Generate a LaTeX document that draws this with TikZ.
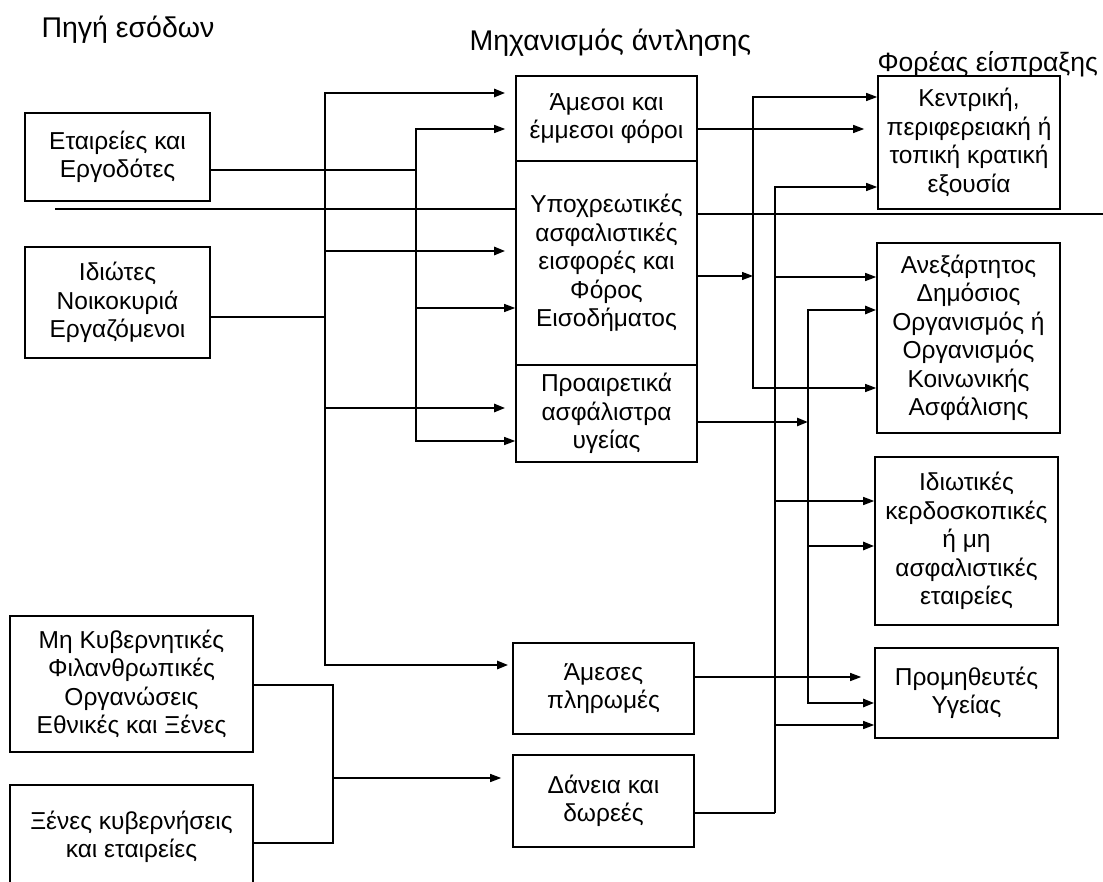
\documentclass[tikz,border=0pt]{standalone}
\usepackage{fontspec}
\setmainfont{Liberation Sans}
\usetikzlibrary{arrows.meta, positioning, calc}

\begin{document}
\begin{tikzpicture}[x=1pt, y=-1pt]
    % --- Style Definitions ---
    \tikzset{
        % Boxes of the three columns
        box style/.style={
            draw=black,
            line width=1.6pt,
            fill=white,
            align=center,
            inner sep=0pt,
            font=\fontsize{24.5}{28.5}\selectfont
        },
        % Column headings
        heading text/.style={
            font=\fontsize{28.5}{33}\selectfont,
            anchor=west
        },
        % Flow lines
        flow line/.style={
            draw=black,
            line width=1.3pt
        },
        thick flow/.style={
            draw=black,
            line width=2.4pt
        },
        flow arrow/.style={
            flow line,
            -{Triangle[length=11pt, width=8pt]}
        },
        thick arrow/.style={
            thick flow,
            -{Triangle[length=11pt, width=8pt]}
        }
    }

    % --- 0. Frame (the bottom edge cuts the last source box) ---
    \useasboundingbox (0,0) rectangle (1103,882);
    \clip (0,0) rectangle (1103,882);

    % --- 1. Headings ---
    \node[heading text] (hsrc) at (38,30) {Πηγή εσόδων};
    \node[heading text] (hmech) at (466,43) {Μηχανισμός άντλησης};
    \node[heading text, font=\fontsize{26.5}{31}\selectfont] (hcoll) at (874,64) {Φορέας είσπραξης};

    % --- 2. Sources (left column) ---
    \node[box style, minimum width=185pt, minimum height=88pt] (firms) at (117.5,157) {Εταιρείες και\\Εργοδότες};
    \node[box style, minimum width=185pt, minimum height=111pt] (private) at (117.5,302.5) {Ιδιώτες\\Νοικοκυριά\\Εργαζόμενοι};
    \node[box style, minimum width=243pt, minimum height=136pt] (ngo) at (131.5,684) {Μη Κυβερνητικές\\Φιλανθρωπικές\\Οργανώσεις\\Εθνικές και Ξένες};
    \node[box style, minimum width=243pt, minimum height=104pt] (foreign) at (131.5,837) {Ξένες κυβερνήσεις\\και εταιρείες};

    % --- 3. Mechanisms (middle column) ---
    \node[box style, minimum width=181pt, minimum height=85pt] (taxes) at (606.5,118.5) {Άμεσοι και\\έμμεσοι φόροι};
    \node[box style, minimum width=181pt, minimum height=204pt] (oblig) at (606.5,263) {Υποχρεωτικές\\ασφαλιστικές\\εισφορές και\\Φόρος\\Εισοδήματος};
    \node[box style, minimum width=181pt, minimum height=97pt] (volunt) at (606.5,413.5) {Προαιρετικά\\ασφάλιστρα\\υγείας};
    \node[box style, minimum width=181pt, minimum height=91pt] (outpay) at (603.5,688.5) {Άμεσες\\πληρωμές};
    \node[box style, minimum width=181pt, minimum height=92pt] (loans) at (603.5,801) {Δάνεια και\\δωρεές};

    % --- 4. Collectors (right column) ---
    \node[box style, minimum width=182pt, minimum height=133pt] (govt) at (969,142.5) {Κεντρική,\\περιφερειακή ή\\τοπική κρατική\\εξουσία};
    \node[box style, minimum width=183pt, minimum height=190pt] (sifund) at (968.5,338) {Ανεξάρτητος\\Δημόσιος\\Οργανισμός ή\\Οργανισμός\\Κοινωνικής\\Ασφάλισης};
    \node[box style, minimum width=183pt, minimum height=168pt] (privins) at (966.5,541) {Ιδιωτικές\\κερδοσκοπικές\\ή μη\\ασφαλιστικές\\εταιρείες};
    \node[box style, minimum width=183pt, minimum height=90pt] (provid) at (966.5,693) {Προμηθευτές\\Υγείας};

    % --- 5. Dividing line ---
    \coordinate (sepL) at (55,209);
    \coordinate (sepR) at (1103,214);
    \draw[flow line] (sepL) -- (sepL -| oblig.west);
    \draw[flow line] (oblig.east |- sepR) -- (sepR);

    % --- 6. Sources to mechanisms ---
    % main bus (households)
    \coordinate (jTop) at (325,93);
    \coordinate (jP) at (325,317);
    \coordinate (j2) at (325,251);
    \coordinate (j3) at (325,408);
    \coordinate (jBot) at (325,665);
    \draw[thick flow] (private.east |- jP) -- (jP);
    \draw[thick arrow, shorten >=10pt] (jBot) -- (jTop) -- (jTop -| taxes.west);
    \draw[thick arrow, shorten >=10pt] (j2) -- (j2 -| oblig.west);
    \draw[thick arrow, shorten >=10pt] (j3) -- (j3 -| volunt.west);
    \draw[thick arrow, shorten >=4pt] (jTop) -- (jBot) -- (jBot -| outpay.west);

    % second bus (firms)
    \coordinate (kTop) at (416,129);
    \coordinate (kF) at (416,170);
    \coordinate (k2) at (416,308);
    \coordinate (kBot) at (416,441);
    \draw[flow line] (firms.east |- kF) -- (kF);
    \draw[flow arrow, shorten >=10pt] (kBot) -- (kTop) -- (kTop -| taxes.west);
    \draw[flow arrow] (k2) -- (k2 -| oblig.west);
    \draw[flow arrow] (kTop) -- (kBot) -- (kBot -| volunt.west);

    % NGOs and foreign governments
    \coordinate (nTop) at (333,685);
    \coordinate (nMid) at (333,778);
    \coordinate (nBot) at (333,843);
    \draw[flow line] (ngo.east |- nTop) -- (nTop) -- (nBot) -- (foreign.east |- nBot);
    \draw[flow arrow, shorten >=11pt] (nMid) -- (nMid -| loans.west);

    % --- 7. Mechanisms to collectors ---
    \coordinate (tx) at (697,129);
    \draw[flow arrow, shorten >=13pt] (taxes.east |- tx) -- (tx -| govt.west);

    % bus from compulsory contributions
    \coordinate (aTop) at (753,97);
    \coordinate (aIn) at (753,276);
    \coordinate (aBot) at (753,388);
    \draw[flow arrow] (oblig.east |- aIn) -- (aIn);
    \draw[flow arrow] (aBot) -- (aTop) -- (aTop -| govt.west);
    \draw[flow arrow] (aTop) -- (aBot) -- (aBot -| sifund.west);

    % bus from loans and donations
    \coordinate (dTop) at (775,187);
    \coordinate (d2) at (775,277);
    \coordinate (d3) at (775,501);
    \coordinate (d4) at (775,725);
    \coordinate (dBot) at (775,813);
    \draw[flow line] (loans.east |- dBot) -- (dBot);
    \draw[flow arrow] (dBot) -- (dTop) -- (dTop -| govt.west);
    \draw[flow arrow] (d2) -- (d2 -| sifund.west);
    \draw[flow arrow] (d3) -- (d3 -| privins.west);
    \draw[flow arrow] (d4) -- (d4 -| provid.west);

    % bus from voluntary premiums
    \coordinate (cIn) at (808,422);
    \coordinate (cTop) at (808,310);
    \coordinate (c2) at (808,546);
    \coordinate (cBot) at (808,703);
    \draw[thick arrow] (volunt.east |- cIn) -- (cIn);
    \draw[thick arrow] (cBot) -- (cTop) -- (cTop -| sifund.west);
    \draw[thick arrow] (c2) -- (c2 -| privins.west);
    \draw[thick arrow] (cTop) -- (cBot) -- (cBot -| provid.west);

    % out-of-pocket payments
    \coordinate (op) at (694,677);
    \draw[flow arrow, shorten >=13pt] (outpay.east |- op) -- (op -| provid.west);

\end{tikzpicture}
\end{document}
